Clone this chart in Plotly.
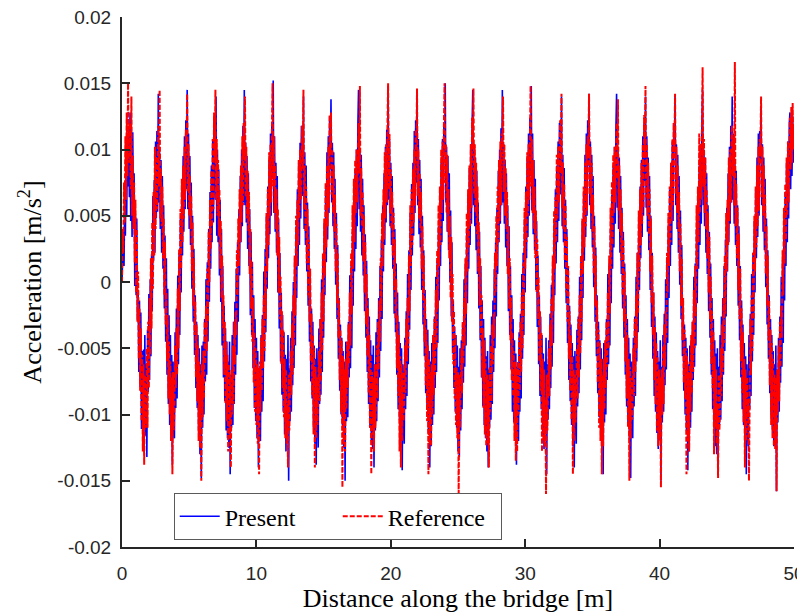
import numpy as np
import plotly.graph_objects as go

# acceleration, in units of 1e-4 m/s^2, one value every 0.05 m
step = 0.05
scale = 1e-4

present = [
    0, 15, 38, 12, 60, 35, 88, 50, 105, 72, 118, 64,
    # 0.6 m
    128, 46, 93, 34, 113, 51, 82, -3, 51, -10, 48, -29, -6, -68, -14, -79, -23, -111, -52, -115, -51, -102,
    -40, -116, -62, -132, -36, -83, -9, -74, 2, -56, 21, -22, 65, 16, 77, 22, 106, 48, 114, 53,
    # 2.7 m
    142, 60, 98, 40, 92, 22, 80, 10, 58, -20, 35, -45, 18, -70, -5, -92, -25, -108, -40, -120, -55, -138,
    -60, -105, -118, -38, -95, -20, -88, 5, -62, 22, -40, 48, -8, 75, 20, 95, 38, 110, 55, 122,
    # 4.8 m
    70, 145, 55, 112, 40, 95, 28, 75, -5, 50, -30, 25, -55, -10, -80, -30, -95, -40, -112, -50, -130, -62,
    -148, -48, -110, -45, -100, -28, -75, 2, -70, 15, -45, 40, -15, 68, 10, 88, 30, 108, 45, 125,
    # 6.9 m
    95, 62, 140, 35, 100, 30, 85, 5, 62, -15, 40, -48, 12, -72, -18, -90, -35, -112,
    -45, -118, -60, -125, -45, -145, -70, -110, -40, -108, -30, -92, -15, -70,
    10, -55, 30, -30, 55, 5, 80, 30, 100, 42, 118, 60,
    # 9.1 m
    145, 58, 105, 45, 95, 25, 82, 12, 55, -25, 38, -40, 15, -65, -10, -95, -28, -105, -42, -118, -52, -140,
    -65, -100, -120, -40, -98, -25, -90, 8, -60, 25, -38, 50, -5, 72, 18, 92, 36, 112, 50, 120,
    # 11.2 m
    78, 152, 52, 110, 38, 90, 22, 80, -8, 48, -35, 22, -60, -8, -85, -25, -98, -38,
    -115, -55, -128, -58, -112, -40, -150, -65, -105, -42, -98, -22, -78, 0,
    -65, 18, -48, 42, -12, 70, 12, 90, 28, 105, 48, 118,
    # 13.4 m
    100, 65, 140, 40, 98, 28, 88, 8, 60, -18, 42, -45, 10, -75, -20, -88, -30, -110, -48, -122, -58, -138,
    -50, -108, -125, -35, -92, -28, -85, 2, -68, 20, -42, 45, -10, 70, 15, 98, 32, 110, 52, 125,
    # 15.5 m
    85, 138, 60, 105, 42, 98, 25, 78, -2, 52, -28, 28, -58, -12, -82, -32, -100, -42, -108, -52, -125, -60,
    -150, -45, -105, -48, -102, -30, -72, 5, -65, 12, -50, 38, -18, 65, 8, 85, 25, 100, 42, 118,
    # 17.6 m
    145, 55, 100, 38, 96, 20, 78, 5, 58, -22, 36, -42, 16, -68, -12, -92, -26, -110,
    -44, -120, -55, -126, -48, -140, -62, -112, -38, -105, -28, -90, -12, -72,
    12, -52, 32, -28, 58, 8, 82, 28, 102, 45, 115, 58,
    # 19.8 m
    148, 62, 108, 42, 90, 28, 80, 10, 56, -24, 40, -38, 14, -70, -8, -96, -30, -104, -46, -116, -50, -142,
    -62, -102, -122, -42, -96, -22, -86, 6, -62, 24, -36, 52, -6, 74, 20, 90, 35, 114, 52, 122,
    # 21.9 m
    75, 145, 58, 108, 36, 92, 26, 78, -6, 50, -32, 24, -56, -6, -84, -28, -96, -36, -114, -52, -140, -60,
    -124, -46, -108, -40, -100, -26, -80, 4, -68, 16, -46, 42, -14, 68, 12, 90, 30, 108, 46, 120,
    # 24.0 m
    98, 150, 60, 102, 38, 95, 24, 82, 0, 54, -26, 30, -54, -14, -80, -34, -98, -40, -110, -48, -128, -64,
    -132, -50, -112, -44, -96, -32, -76, 2, -64, 14, -48, 40, -16, 66, 10, 86, 28, 104, 44, 118,
    # 26.1 m
    145, 58, 104, 42, 94, 24, 84, 6, 60, -20, 38, -44, 12, -72, -14, -94, -28, -108,
    -42, -118, -56, -128, -52, -140, -66, -110, -40, -104, -26, -92, -14, -68,
    10, -50, 30, -26, 56, 6, 84, 30, 100, 44, 116, 58,
    # 28.3 m
    145, 60, 104, 44, 92, 26, 82, 12, 58, -22, 42, -40, 12, -66, -10, -98, -28, -106, -44, -120, -54, -138,
    -64, -104, -120, -38, -98, -24, -88, 6, -58, 22, -40, 48, -8, 72, 18, 94, 34, 112, 50, 124,
    # 30.4 m
    80, 148, 54, 112, 36, 92, 24, 78, -6, 46, -34, 20, -62, -10, -86, -26, -96, -40,
    -116, -54, -126, -60, -114, -42, -145, -62, -104, -44, -96, -24, -80, -2,
    -64, 16, -46, 44, -10, 70, 14, 88, 30, 106, 46, 120,
    # 32.6 m
    102, 66, 140, 42, 96, 30, 86, 10, 62, -16, 40, -46, 12, -74, -18, -90, -32, -108, -46, -124, -56, -140,
    -52, -106, -122, -36, -94, -26, -84, 4, -66, 18, -44, 46, -12, 68, 16, 96, 34, 112, 50, 122,
    # 34.7 m
    88, 142, 58, 106, 40, 96, 26, 80, -4, 50, -30, 26, -56, -10, -84, -30, -102, -44, -110, -50, -126, -58,
    -145, -46, -106, -46, -100, -28, -74, 6, -62, 14, -48, 40, -16, 66, 10, 88, 26, 102, 44, 116,
    # 36.8 m
    142, 56, 102, 40, 94, 22, 80, 6, 56, -20, 38, -42, 14, -70, -10, -94, -28, -108, -42, -118, -54, -148,
    -60, -100, -118, -42, -94, -26, -86, 4, -60, 22, -38, 50, -6, 72, 18, 92, 34, 110, 50, 120,
    # 38.9 m
    76, 140, 56, 110, 38, 94, 24, 80, -6, 50, -34, 22, -58, -8, -86, -26, -98, -38,
    -114, -52, -126, -60, -116, -44, -150, -64, -106, -40, -98, -24, -78, 2,
    -66, 18, -46, 42, -12, 70, 12, 90, 28, 106, 46, 120,
    # 41.1 m
    98, 140, 58, 104, 40, 96, 22, 80, -2, 54, -28, 28, -56, -12, -82, -32, -100, -42, -112, -50, -142, -62,
    -128, -48, -110, -44, -98, -30, -74, 4, -64, 14, -48, 40, -16, 66, 10, 88, 28, 104, 44, 120,
    # 43.2 m
    145, 58, 100, 42, 94, 22, 82, 6, 58, -22, 38, -42, 14, -70, -12, -96, -28, -110,
    -44, -124, -54, -130, -50, -142, -64, -108, -40, -104, -26, -90, -12, -70,
    12, -52, 32, -26, 56, 8, 82, 30, 102, 44, 118, 60,
    # 45.4 m
    140, 62, 112, 44, 92, 28, 84, 12, 58, -18, 42, -44, 12, -72, -14, -96, -32, -108, -46, -122, -56, -145,
    -62, -104, -124, -40, -96, -24, -86, 6, -60, 22, -40, 46, -8, 70, 18, 94, 34, 112, 50, 114,
    # 47.5 m
    90, 132, 58, 104, 38, 94, 24, 78, -4, 48, -32, 24, -58, -10, -84, -28, -100, -40,
    -112, -52, -124, -62, -120, -48, -158, -66, -106, -42, -98, -26, -76, 4,
    -64, 16, -46, 42, -14, 68, 12, 90, 30, 106, 48, 120,
    # 49.7 m
    128, 70, 118, 80, 125, 90, 110,
]

reference = [
    0, 40, 22, 75, 45, 110, 62, 128, 80, 150, 90, 120,
    # 0.6 m
    105, 70, 140, 50, 95, 40, 75, 15, 62, -8, 40, -30, 8, -58, -20, -82, -35, -105, -55, -128, -62, -138,
    -70, -110, -100, -50, -110, -30, -80, -12, -55, 18, -35, 45, -5, 68, 20, 102, 40, 95, 55, 108,
    # 2.7 m
    118, 72, 145, 48, 85, 42, 72, 18, 48, -10, 30, -32, -8, -60, -25, -88, -45, -100, -60, -120, -72, -145,
    -68, -112, -95, -48, -80, -35, -70, -5, -50, 25, -22, 55, 10, 78, 30, 88, 48, 102, 62, 115,
    # 4.8 m
    100, 142, 68, 104, 50, 80, 40, 65, 8, 45, -18, 18, -40, -15, -72, -32, -90, -48, -120, -60, -125, -70,
    -150, -62, -102, -52, -88, -30, -62, -18, -52, 10, -30, 38, 0, 62, 25, 84, 42, 108, 55, 128,
    # 6.9 m
    92, 145, 62, 108, 50, 92, 35, 70, 10, 46, -12, 20, -35, -10, -70, -30, -92, -45,
    -105, -55, -128, -62, -118, -70, -140, -66, -100, -48, -92, -30, -62, -22,
    -40, 24, -10, 48, 12, 70, 30, 88, 45, 110, 58, 120,
    # 9.1 m
    92, 140, 64, 102, 48, 84, 38, 68, 6, 40, -20, 16, -45, -12, -76, -38, -98, -50, -108, -62, -122, -65,
    -145, -60, -98, -42, -82, -28, -65, -10, -52, 12, -28, 52, 8, 70, 28, 98, 50, 104, 60, 112,
    # 11.2 m
    150, 72, 110, 52, 88, 40, 70, 20, 55, -8, 34, -28, 4, -62, -22, -80, -36, -102,
    -58, -118, -66, -122, -92, -140, -70, -112, -90, -52, -85, -32, -70, -10,
    -48, 20, -25, 50, 12, 62, 28, 92, 48, 100, 62, 114,
    # 13.4 m
    118, 85, 145, 55, 88, 38, 72, 14, 55, -10, 32, -30, 10, -60, -24, -85, -40, -115, -50, -140, -64, -118,
    -72, -108, -84, -52, -90, -28, -75, -8, -52, 22, -30, 48, 5, 75, 26, 88, 42, 102, 56, 126,
    # 15.5 m
    96, 128, 66, 100, 52, 88, 38, 66, 8, 44, -16, 22, -42, -14, -74, -36, -98, -44, -155, -56, -122, -66,
    -128, -58, -96, -45, -80, -32, -62, -8, -48, 22, -24, 58, 10, 78, 30, 92, 52, 100, 60, 110,
    # 17.6 m
    120, 82, 148, 50, 86, 42, 68, 16, 50, -8, 30, -32, 6, -56, -20, -84, -40, -110,
    -55, -145, -68, -115, -72, -128, -62, -110, -92, -48, -88, -30, -66, -14,
    -45, 18, -22, 52, 12, 70, 32, 98, 48, 104, 60, 116,
    # 19.8 m
    150, 70, 112, 52, 85, 40, 68, 20, 52, -6, 32, -28, 2, -65, -25, -86, -40, -128, -56, -140, -62, -120,
    -68, -105, -90, -48, -84, -28, -60, -12, -50, 20, -22, 58, 12, 70, 28, 85, 45, 100, 58, 115,
    # 21.9 m
    94, 146, 65, 100, 48, 82, 40, 68, 10, 42, -14, 20, -45, -12, -78, -36, -105, -48, -145, -58, -122, -68,
    -124, -62, -100, -40, -85, -28, -70, -6, -50, 24, -20, 58, 12, 72, 28, 100, 52, 106, 62, 118,
    # 24.0 m
    150, 75, 104, 52, 96, 38, 70, 18, 50, -12, 34, -30, 6, -62, -22, -88, -40, -108, -65, -118, -68, -162,
    -70, -110, -88, -50, -84, -30, -62, -12, -48, 18, -24, 52, 8, 70, 26, 88, 42, 104, 56, 124,
    # 26.1 m
    100, 146, 66, 104, 52, 90, 36, 72, 8, 45, -18, 18, -42, -10, -72, -35, -95, -44,
    -115, -58, -124, -70, -122, -74, -140, -64, -98, -48, -90, -32, -62, -24,
    -42, 22, -8, 50, 12, 72, 30, 92, 46, 106, 58, 112,
    # 28.3 m
    102, 140, 68, 104, 50, 86, 40, 68, 6, 42, -20, 18, -44, -12, -74, -38, -86, -52, -120, -60, -135, -65,
    -128, -60, -100, -42, -82, -30, -68, -8, -50, 14, -26, 56, 10, 68, 30, 98, 50, 104, 62, 114,
    # 30.4 m
    148, 72, 108, 52, 92, 40, 72, 18, 54, -8, 32, -28, 4, -60, -22, -82, -38, -128,
    -58, -120, -66, -124, -88, -160, -70, -112, -90, -50, -86, -32, -66, -12,
    -48, 20, -22, 54, 10, 64, 30, 96, 48, 102, 60, 116,
    # 32.6 m
    122, 82, 142, 56, 90, 40, 74, 16, 58, -8, 34, -30, 12, -58, -22, -82, -40, -104, -56, -145, -66, -120,
    -70, -106, -86, -50, -88, -28, -72, -10, -54, 20, -30, 48, 6, 72, 26, 90, 42, 104, 54, 110,
    # 34.7 m
    96, 142, 66, 102, 52, 90, 38, 66, 6, 42, -18, 20, -44, -14, -76, -36, -110, -46, -120, -58, -145, -70,
    -124, -58, -96, -44, -80, -30, -64, -8, -50, 20, -24, 56, 10, 76, 28, 96, 52, 102, 60, 114,
    # 36.8 m
    120, 78, 138, 54, 88, 38, 70, 16, 52, -10, 32, -30, 8, -60, -24, -88, -40, -110, -58, -150, -64, -118,
    -72, -104, -88, -50, -86, -28, -68, -10, -50, 22, -24, 54, 8, 70, 28, 90, 44, 104, 56, 126,
    # 38.9 m
    94, 148, 64, 104, 50, 90, 36, 70, 8, 48, -16, 20, -40, -8, -74, -34, -92, -46,
    -112, -56, -124, -66, -120, -72, -155, -66, -100, -48, -92, -32, -64, -22,
    -42, 22, -8, 52, 12, 72, 30, 90, 46, 108, 58, 120,
    # 41.1 m
    98, 142, 66, 102, 52, 88, 38, 68, 8, 44, -18, 18, -44, -12, -76, -36, -88, -50, -145, -56, -120, -68,
    -128, -60, -98, -40, -84, -30, -68, -6, -50, 12, -26, 58, 10, 72, 30, 112, 52, 104, 62, 116,
    # 43.2 m
    162, 72, 108, 52, 94, 40, 70, 18, 52, -8, 34, -28, 4, -62, -22, -80, -38, -130,
    -56, -110, -66, -122, -92, -148, -70, -112, -94, -50, -86, -32, -68, -12,
    -46, 20, -24, 52, 8, 62, 28, 94, 46, 100, 60, 112,
    # 45.4 m
    118, 80, 110, 58, 166, 42, 74, 18, 56, -6, 36, -28, 10, -60, -20, -84, -38, -106, -58, -140, -66, -120,
    -72, -102, -88, -150, -86, -28, -70, -10, -52, 22, -28, 50, 8, 72, 26, 88, 42, 102, 54, 108,
    # 47.5 m
    96, 140, 64, 102, 50, 88, 38, 66, 6, 42, -18, 20, -44, -14, -78, -36, -108, -46,
    -118, -58, -124, -70, -126, -72, -158, -66, -98, -48, -90, -30, -64, -18,
    -42, 24, -10, 56, 14, 74, 32, 94, 50, 106, 60, 118,
    # 49.7 m
    124, 85, 132, 90, 135, 100, 118,
]

y_ticks = [-0.02, -0.015, -0.01, -0.005, 0, 0.005, 0.01, 0.015, 0.02]
y_ticktext = ['-0.02', '-0.015', '-0.01', '-0.005', '0', '0.005', '0.01', '0.015', '0.02']
x_ticks = [0, 10, 20, 30, 40, 50]

x_p = np.round(np.arange(len(present)) * step, 2)
x_r = np.round(np.arange(len(reference)) * step, 2)

tick_font = dict(family='Liberation Sans, Arial', size=19, color='#262626')
serif = 'Liberation Serif, Times New Roman'

fig = go.Figure()
fig.add_trace(go.Scatter(
    x=x_p, y=np.array(present) * scale,
    mode='lines', name='Present',
    line=dict(color='#0000ff', width=1.6),
))
fig.add_trace(go.Scatter(
    x=x_r, y=np.array(reference) * scale,
    mode='lines', name='Reference',
    line=dict(color='#ff0000', width=2, dash='5px,2px'),
))

# the page body adds 8 px around the figure, margins allow for it
fig.update_layout(
    width=805, height=615,
    margin=dict(l=114, r=19, t=9, b=76),
    paper_bgcolor='white', plot_bgcolor='white',
    showlegend=True,
    legend=dict(
        orientation='h',
        x=0.077, y=0.013, xanchor='left', yanchor='bottom',
        bgcolor='white', bordercolor='#5a5a5a', borderwidth=1,
        font=dict(family=serif, size=24, color='black'),
        entrywidth=108,
        itemwidth=40,
    ),
    xaxis=dict(
        range=[0, 50], tickvals=x_ticks, automargin=False,
        showline=True, linecolor='#262626', linewidth=2, mirror=False,
        ticks='inside', ticklen=8, tickcolor='#262626', tickwidth=2,
        showgrid=False, zeroline=False,
        tickfont=tick_font, ticklabelstandoff=8, ticklabeloverflow='allow',
        title=dict(text='Distance along the bridge [m]', font=dict(family=serif, size=26, color='black'), standoff=0),
    ),
    yaxis=dict(
        range=[-0.02, 0.02], tickvals=y_ticks, ticktext=y_ticktext, automargin=False,
        showline=True, linecolor='#262626', linewidth=2, mirror=False,
        ticks='inside', ticklen=8, tickcolor='#262626', tickwidth=2,
        showgrid=False, zeroline=False,
        tickfont=tick_font, ticklabelstandoff=5, ticklabeloverflow='allow',
        title=dict(text='Acceleration [m/s<sup>2</sup>]', font=dict(family=serif, size=26, color='black'), standoff=8),
    ),
)

fig.write_html('out.html')
